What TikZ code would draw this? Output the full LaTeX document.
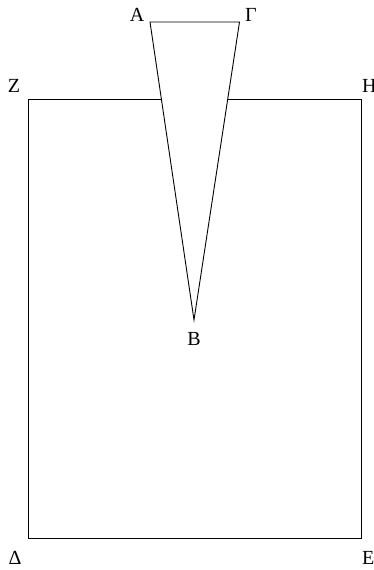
\documentclass[tikz,border=0pt]{standalone}
\usepackage{fontspec}
\setmainfont{Liberation Serif}
\usetikzlibrary{positioning}
\tikzset{
  edge/.style={line width=0.9pt, line join=miter},
  ptlabel/.style={font=\fontsize{20}{20}\selectfont, inner sep=0pt, anchor=base}
}
\begin{document}
\begin{tikzpicture}[x=1pt, y=-1pt]
  \useasboundingbox (0,0) rectangle (373,570);
  % corners of the rectangle and vertices of the wedge
  \coordinate (Z) at (28,99);
  \coordinate (H) at (361,99);
  \coordinate (E) at (361,538);
  \coordinate (D) at (28,538);
  \coordinate (A) at (150,22);
  \coordinate (G) at (239.5,22);
  \coordinate (B) at (194,320);
  \draw[edge] (Z) -- (H) -- (E) -- (D) -- cycle;
  \filldraw[edge, fill=white] (A) -- (G) -- (B) -- cycle;
  % letters
  \node[ptlabel] (lA) at (137,21) {Α};
  \node[ptlabel] (lG) at (251,21) {Γ};
  \node[ptlabel] (lZ) at (14,92) {Ζ};
  \node[ptlabel, anchor=base west] (lH) at (362,92) {Η};
  \node[ptlabel] (lB) at (194,345) {Β};
  \node[ptlabel] (lD) at (15,564) {Δ};
  \node[ptlabel, anchor=base west] (lE) at (362,564) {Ε};
\end{tikzpicture}
\end{document}
